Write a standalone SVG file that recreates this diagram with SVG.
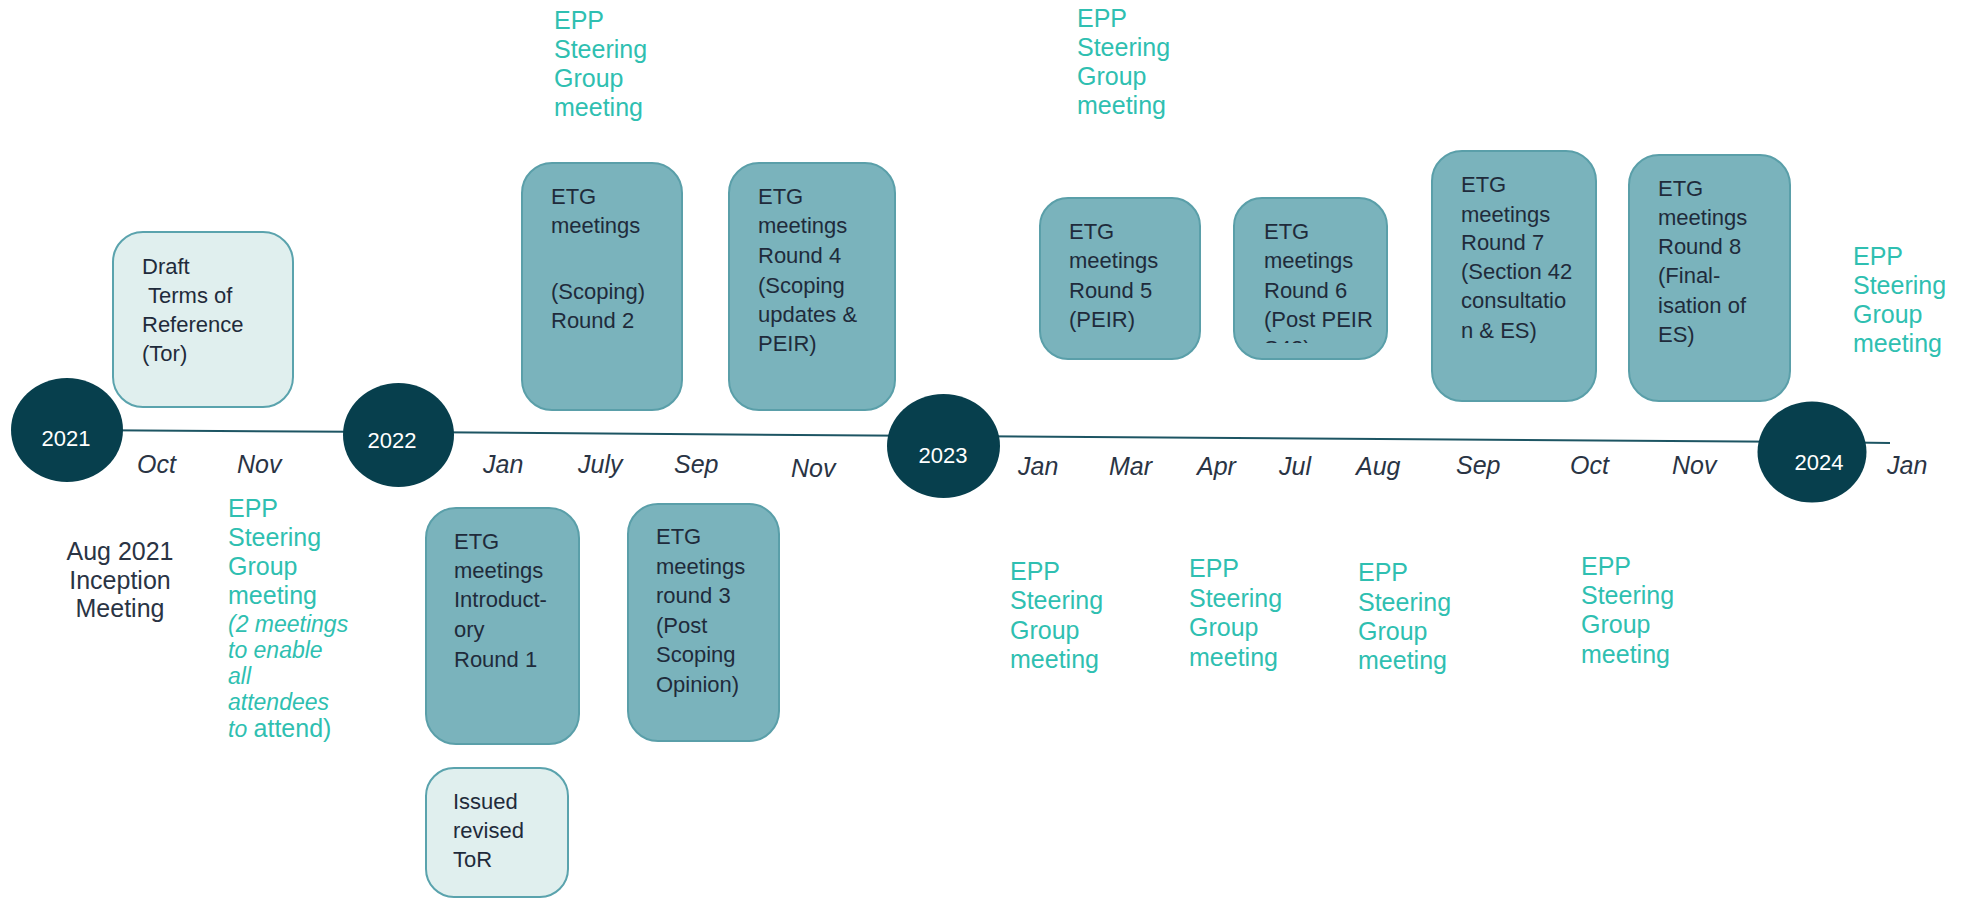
<svg xmlns="http://www.w3.org/2000/svg" width="1968" height="899" viewBox="0 0 1968 899">
<defs>
<style>
.bg{fill:#ffffff}
.etg{fill:#7ab3bc;stroke:#5a9fa9;stroke-width:2}
.lite{fill:#e0efee;stroke:#5aa3ad;stroke-width:2}
.yr{fill:#073f4d}
.yrt{font-family:"Liberation Sans",Arial,sans-serif;font-size:22px;fill:#ffffff;text-anchor:middle}
.bt{font-family:"Liberation Sans",Arial,sans-serif;font-size:22px;fill:#1f2b3b}
.mo{font-family:"Liberation Sans",Arial,sans-serif;font-size:25px;font-style:italic;fill:#2a3444}
.epp{font-family:"Liberation Sans",Arial,sans-serif;font-size:25px;fill:#2fbfb1}
.eppi{font-family:"Liberation Sans",Arial,sans-serif;font-size:23px;font-style:italic;fill:#2fbfb1}
.dk{font-family:"Liberation Sans",Arial,sans-serif;font-size:25px;fill:#2a3444;text-anchor:middle}
.tl{fill:none;stroke:#1d5563;stroke-width:2}
</style>
<clipPath id="clip6"><rect x="1234" y="198" width="153" height="145"/></clipPath>
</defs>
<rect class="bg" x="0" y="0" width="1968" height="899"/>

<g id="connectors">
<polyline class="tl" points="67,430 398,432 943,436 1812,442 1890,443"/>
</g>

<g id="year-2021"><ellipse class="yr" cx="67" cy="430" rx="56" ry="52"/><text class="yrt" x="66" y="446">2021</text></g>
<g id="year-2022"><ellipse class="yr" cx="398.5" cy="435" rx="55.5" ry="52"/><text class="yrt" x="392" y="448">2022</text></g>
<g id="year-2023"><ellipse class="yr" cx="943.5" cy="446" rx="56.5" ry="52"/><text class="yrt" x="943" y="463">2023</text></g>
<g id="year-2024"><ellipse class="yr" cx="1812" cy="452" rx="54.5" ry="50.5"/><text class="yrt" x="1819" y="470">2024</text></g>

<g id="months">
<text class="mo" x="137" y="473">Oct</text>
<text class="mo" x="237" y="473">Nov</text>
<text class="mo" x="483" y="473">Jan</text>
<text class="mo" x="578" y="473">July</text>
<text class="mo" x="674" y="473">Sep</text>
<text class="mo" x="791" y="477">Nov</text>
<text class="mo" x="1018" y="475">Jan</text>
<text class="mo" x="1109" y="475">Mar</text>
<text class="mo" x="1197" y="475">Apr</text>
<text class="mo" x="1279" y="475">Jul</text>
<text class="mo" x="1356" y="475">Aug</text>
<text class="mo" x="1456" y="474">Sep</text>
<text class="mo" x="1570" y="474">Oct</text>
<text class="mo" x="1672" y="474">Nov</text>
<text class="mo" x="1887" y="474">Jan</text>
</g>

<g id="draft-tor">
<rect class="lite" x="113" y="232" width="180" height="175" rx="30"/>
<text class="bt" x="142" y="274">Draft</text>
<text class="bt" x="148" y="303">Terms of</text>
<text class="bt" x="142" y="332">Reference</text>
<text class="bt" x="142" y="361">(Tor)</text>
</g>

<g id="etg-round2">
<rect class="etg" x="522" y="163" width="160" height="247" rx="30"/>
<text class="bt" x="551" y="204">ETG</text>
<text class="bt" x="551" y="233">meetings</text>
<text class="bt" x="551" y="299">(Scoping)</text>
<text class="bt" x="551" y="328">Round 2</text>
</g>

<g id="etg-round4">
<rect class="etg" x="729" y="163" width="166" height="247" rx="30"/>
<text class="bt" x="758" y="204">ETG</text>
<text class="bt" x="758" y="233">meetings</text>
<text class="bt" x="758" y="263">Round 4</text>
<text class="bt" x="758" y="293">(Scoping</text>
<text class="bt" x="758" y="322">updates &amp;</text>
<text class="bt" x="758" y="351">PEIR)</text>
</g>

<g id="etg-round1">
<rect class="etg" x="426" y="508" width="153" height="236" rx="30"/>
<text class="bt" x="454" y="549">ETG</text>
<text class="bt" x="454" y="578">meetings</text>
<text class="bt" x="454" y="607">Introduct-</text>
<text class="bt" x="454" y="637">ory</text>
<text class="bt" x="454" y="667">Round 1</text>
</g>

<g id="etg-round3">
<rect class="etg" x="628" y="504" width="151" height="237" rx="30"/>
<text class="bt" x="656" y="544">ETG</text>
<text class="bt" x="656" y="574">meetings</text>
<text class="bt" x="656" y="603">round 3</text>
<text class="bt" x="656" y="633">(Post</text>
<text class="bt" x="656" y="662">Scoping</text>
<text class="bt" x="656" y="692">Opinion)</text>
</g>

<g id="issued-tor">
<rect class="lite" x="426" y="768" width="142" height="129" rx="28"/>
<text class="bt" x="453" y="809">Issued</text>
<text class="bt" x="453" y="838">revised</text>
<text class="bt" x="453" y="867">ToR</text>
</g>

<g id="etg-round5">
<rect class="etg" x="1040" y="198" width="160" height="161" rx="28"/>
<text class="bt" x="1069" y="239">ETG</text>
<text class="bt" x="1069" y="268">meetings</text>
<text class="bt" x="1069" y="298">Round 5</text>
<text class="bt" x="1069" y="327">(PEIR)</text>
</g>

<g id="etg-round6">
<rect class="etg" x="1234" y="198" width="153" height="161" rx="28"/>
<g clip-path="url(#clip6)">
<text class="bt" x="1264" y="239">ETG</text>
<text class="bt" x="1264" y="268">meetings</text>
<text class="bt" x="1264" y="298">Round 6</text>
<text class="bt" x="1264" y="327">(Post PEIR</text>
<text class="bt" x="1264" y="356">S42)</text>
</g>
</g>

<g id="etg-round7">
<rect class="etg" x="1432" y="151" width="164" height="250" rx="30"/>
<text class="bt" x="1461" y="192">ETG</text>
<text class="bt" x="1461" y="222">meetings</text>
<text class="bt" x="1461" y="250">Round 7</text>
<text class="bt" x="1461" y="279">(Section 42</text>
<text class="bt" x="1461" y="308">consultatio</text>
<text class="bt" x="1461" y="338">n &amp; ES)</text>
</g>

<g id="etg-round8">
<rect class="etg" x="1629" y="155" width="161" height="246" rx="30"/>
<text class="bt" x="1658" y="196">ETG</text>
<text class="bt" x="1658" y="225">meetings</text>
<text class="bt" x="1658" y="254">Round 8</text>
<text class="bt" x="1658" y="283">(Final-</text>
<text class="bt" x="1658" y="313">isation of</text>
<text class="bt" x="1658" y="342">ES)</text>
</g>

<g id="inception">
<text class="dk" x="120" y="560">Aug 2021</text>
<text class="dk" x="120" y="589">Inception</text>
<text class="dk" x="120" y="617">Meeting</text>
</g>

<g id="epp-nov2021">
<text class="epp" x="228" y="517">EPP</text>
<text class="epp" x="228" y="546">Steering</text>
<text class="epp" x="228" y="575">Group</text>
<text class="epp" x="228" y="604">meeting</text>
<text class="eppi" x="228" y="632">(2 meetings</text>
<text class="eppi" x="228" y="658">to enable</text>
<text class="eppi" x="228" y="684">all</text>
<text class="eppi" x="228" y="710">attendees</text>
<text class="eppi" x="228" y="737">to <tspan font-style="normal" font-size="25">attend)</tspan></text>
</g>

<g id="epp-jul2022">
<text class="epp" x="554" y="29">EPP</text>
<text class="epp" x="554" y="58">Steering</text>
<text class="epp" x="554" y="87">Group</text>
<text class="epp" x="554" y="116">meeting</text>
</g>

<g id="epp-mar2023">
<text class="epp" x="1077" y="27">EPP</text>
<text class="epp" x="1077" y="56">Steering</text>
<text class="epp" x="1077" y="85">Group</text>
<text class="epp" x="1077" y="114">meeting</text>
</g>

<g id="epp-jan2024">
<text class="epp" x="1853" y="265">EPP</text>
<text class="epp" x="1853" y="294">Steering</text>
<text class="epp" x="1853" y="323">Group</text>
<text class="epp" x="1853" y="352">meeting</text>
</g>

<g id="epp-jan2023">
<text class="epp" x="1010" y="580">EPP</text>
<text class="epp" x="1010" y="609">Steering</text>
<text class="epp" x="1010" y="639">Group</text>
<text class="epp" x="1010" y="668">meeting</text>
</g>

<g id="epp-apr2023">
<text class="epp" x="1189" y="577">EPP</text>
<text class="epp" x="1189" y="607">Steering</text>
<text class="epp" x="1189" y="636">Group</text>
<text class="epp" x="1189" y="666">meeting</text>
</g>

<g id="epp-aug2023">
<text class="epp" x="1358" y="581">EPP</text>
<text class="epp" x="1358" y="611">Steering</text>
<text class="epp" x="1358" y="640">Group</text>
<text class="epp" x="1358" y="669">meeting</text>
</g>

<g id="epp-oct2023">
<text class="epp" x="1581" y="575">EPP</text>
<text class="epp" x="1581" y="604">Steering</text>
<text class="epp" x="1581" y="633">Group</text>
<text class="epp" x="1581" y="663">meeting</text>
</g>
</svg>
